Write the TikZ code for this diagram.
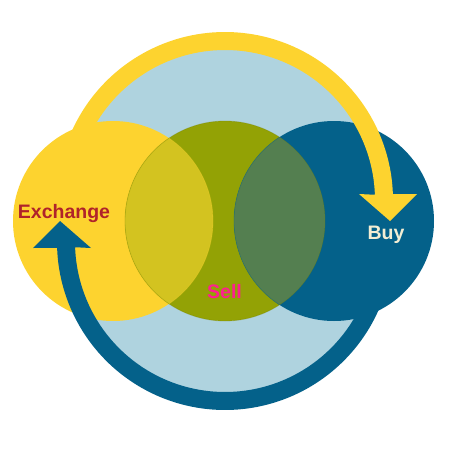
\documentclass[tikz,border=0pt]{standalone}
\usepackage{fontspec}
\setmainfont{Liberation Sans}
\definecolor{yelC}{HTML}{FDD32F}
\definecolor{lblueC}{HTML}{AFD3DF}
\definecolor{oliveC}{HTML}{93A205}
\definecolor{yoC}{HTML}{D3C320}
\definecolor{gbC}{HTML}{547F50}
\definecolor{dblueC}{HTML}{04618A}
\definecolor{exchC}{HTML}{B0232A}
\definecolor{buyC}{HTML}{F3EED4}
\definecolor{sellC}{HTML}{FF1F8F}
\tikzset{
  lbl/.style={font=\bfseries\fontsize{19.5}{20}\selectfont, anchor=base, inner sep=0pt},
  faint/.style={line width=0.8pt, opacity=0.3},
}
% curved arrow: a band between radii 168 and 150 round (225,200), with a head
\newcommand{\arrowshape}{%
  plot[domain=200:358, samples=90] ({225+168*cos(\x)},{200+168*sin(\x)})
  -- (417,194) -- (390,221) -- (359,194)
  -- plot[domain=358:200, samples=90] ({225+150*cos(\x)},{200+150*sin(\x)})
  -- cycle}
\begin{document}
\begin{tikzpicture}[x=1pt,y=-1pt]
\useasboundingbox (0,0) rectangle (450,450);
\fill[white] (0,0) rectangle (450,450);
% centres
\coordinate (big) at (225,220);
\coordinate (cy) at (113,221);
\coordinate (cg) at (225,221);
\coordinate (cb) at (334,221);
\coordinate (pivot) at (225,221);
% background circle
\fill[lblueC] (big) circle[radius=175pt];
% three circles
\fill[yelC] (cy) circle[radius=100pt];
\fill[oliveC] (cg) circle[radius=100pt];
\fill[dblueC] (cb) circle[radius=100pt];
\begin{scope}
  \clip (cy) circle[radius=100pt];
  \fill[yoC] (cg) circle[radius=100pt];
\end{scope}
\begin{scope}
  \clip (cb) circle[radius=100pt];
  \fill[gbC] (cg) circle[radius=100pt];
\end{scope}
% faint edges
\draw[faint, oliveC!80!black] (cg) circle[radius=100pt];
\begin{scope}
  \clip (cg) circle[radius=100pt];
  \draw[faint, yelC] (cy) circle[radius=100pt];
  \draw[faint, dblueC] (cb) circle[radius=100pt];
\end{scope}
% yellow arrow (Exchange -> Buy)
\fill[yelC] \arrowshape;
% blue arrow (Buy -> Exchange): the same shape turned half a turn
\begin{scope}[rotate around={180:(pivot)}]
  \fill[dblueC] \arrowshape;
\end{scope}
% labels
\node[lbl, text=exchC] (exch) at (64,218) {Exchange};
\node[lbl, text=buyC] (buy) at (386,239) {Buy};
\node[lbl, text=sellC] (sell) at (224.5,298) {Sell};
\end{tikzpicture}
\end{document}
